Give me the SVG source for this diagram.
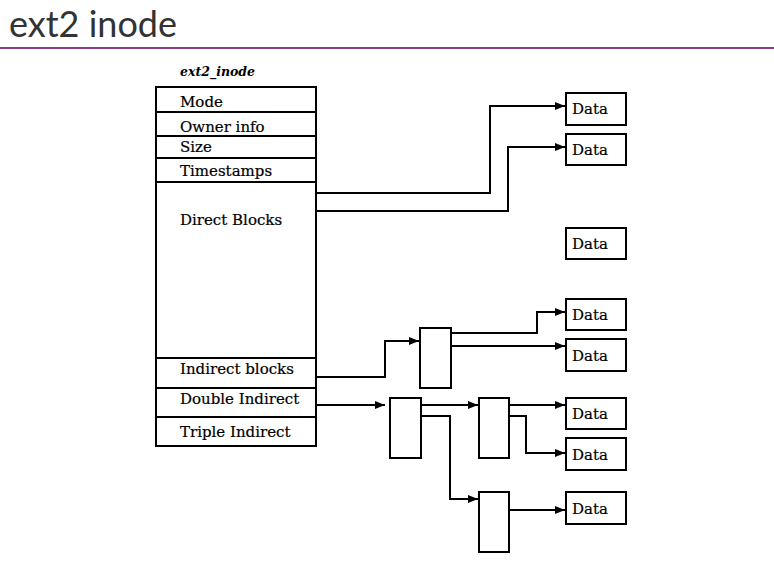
<svg xmlns="http://www.w3.org/2000/svg" width="774" height="576" viewBox="0 0 774 576">
<defs>
<marker id="ah" markerWidth="10" markerHeight="8" refX="10" refY="4" orient="auto" markerUnits="userSpaceOnUse">
<path d="M0,0 L10,4 L0,8 z" fill="#000"/>
</marker>
<style>
.title{font-family:Lato,"Open Sans",sans-serif;font-weight:400;font-size:36px;fill:#333}
.t{font-family:"DejaVu Serif","Liberation Serif",serif;font-size:15px;fill:#000;stroke:#000;stroke-width:0.2}
.it{font-family:"DejaVu Serif","Liberation Serif",serif;font-style:italic;font-weight:bold;font-size:12.5px;fill:#000}
.box{fill:#fff;stroke:#000;stroke-width:2}
.ln{fill:none;stroke:#000;stroke-width:2}
.c{fill:none;stroke:#000;stroke-width:2;marker-end:url(#ah)}
</style>
</defs>
<rect width="774" height="576" fill="#fff"/>
<text class="title" x="9" y="37">ext2 inode</text>
<line x1="0" y1="48" x2="774" y2="48" stroke="#8e3b8e" stroke-width="2"/>

<g id="inode">
<text class="it" x="180" y="76">ext2_inode</text>
<rect class="box" x="156" y="87" width="160" height="359"/>
<line class="ln" x1="156" y1="112" x2="316" y2="112"/>
<line class="ln" x1="156" y1="136" x2="316" y2="136"/>
<line class="ln" x1="156" y1="158" x2="316" y2="158"/>
<line class="ln" x1="156" y1="182" x2="316" y2="182"/>
<line class="ln" x1="156" y1="358" x2="316" y2="358"/>
<line class="ln" x1="156" y1="388" x2="316" y2="388"/>
<line class="ln" x1="156" y1="417" x2="316" y2="417"/>
<text class="t" x="180" y="107">Mode</text>
<text class="t" x="180" y="132">Owner info</text>
<text class="t" x="180" y="152">Size</text>
<text class="t" x="180" y="176">Timestamps</text>
<text class="t" x="180" y="225">Direct Blocks</text>
<text class="t" x="180" y="374">Indirect blocks</text>
<text class="t" x="180" y="404">Double Indirect</text>
<text class="t" x="180" y="437">Triple Indirect</text>
</g>

<g id="ind1"><rect class="box" x="420" y="328" width="31" height="60"/></g>
<g id="dbl1"><rect class="box" x="390" y="398" width="31" height="60"/></g>
<g id="dbl2"><rect class="box" x="479" y="398" width="30" height="60"/></g>
<g id="dbl3"><rect class="box" x="479" y="492" width="30" height="60"/></g>

<g id="data1"><rect class="box" x="566" y="93" width="60" height="32"/><text class="t" x="572" y="114">Data</text></g>
<g id="data2"><rect class="box" x="566" y="134" width="60" height="31"/><text class="t" x="572" y="155">Data</text></g>
<g id="data3"><rect class="box" x="566" y="228" width="60" height="31"/><text class="t" x="572" y="249">Data</text></g>
<g id="data4"><rect class="box" x="566" y="299" width="60" height="31"/><text class="t" x="572" y="320">Data</text></g>
<g id="data5"><rect class="box" x="566" y="339" width="60" height="32"/><text class="t" x="572" y="361">Data</text></g>
<g id="data6"><rect class="box" x="566" y="398" width="60" height="31"/><text class="t" x="572" y="419">Data</text></g>
<g id="data7"><rect class="box" x="566" y="438" width="60" height="32"/><text class="t" x="572" y="460">Data</text></g>
<g id="data8"><rect class="box" x="566" y="492" width="60" height="32"/><text class="t" x="572" y="514">Data</text></g>

<g id="connectors">
<path class="c" d="M316,193 H490 V106 H565"/>
<path class="c" d="M316,211 H508 V147 H565"/>
<path class="c" d="M316,377 H385 V341 H419"/>
<path class="c" d="M451,333 H537 V312 H565"/>
<path class="c" d="M451,346 H565"/>
<path class="c" d="M316,405 H385"/>
<path class="c" d="M421,405 H478"/>
<path class="c" d="M421,416 H450 V499 H478"/>
<path class="c" d="M509,405 H565"/>
<path class="c" d="M509,416 H526 V453 H565"/>
<path class="c" d="M509,510 H565"/>
</g>
</svg>
